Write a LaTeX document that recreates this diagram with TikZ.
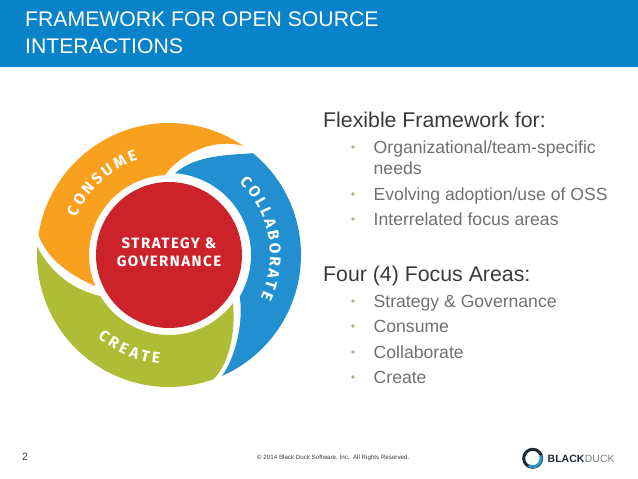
\documentclass[tikz,border=0pt]{standalone}
\usepackage{fontspec}
\setmainfont{Liberation Sans}
\newfontfamily\wheelfont{Fira Sans}
\newfontfamily\stratfont[LetterSpace=10]{Fira Sans}
\usetikzlibrary{calc, decorations.text}
\definecolor{headblue}{HTML}{0882C8}
\definecolor{consumeorange}{HTML}{F9A01F}
\definecolor{collabblue}{HTML}{2290D0}
\definecolor{createolive}{HTML}{AEBD35}
\definecolor{stratred}{HTML}{CC2229}
\definecolor{bodygray}{HTML}{3A3A3A}
\definecolor{itemgray}{HTML}{707070}
\definecolor{bulletgreen}{HTML}{A3B585}
\definecolor{duckdark}{HTML}{1E2A33}
\definecolor{duckblue}{HTML}{2A93C8}
\begin{document}
\begin{tikzpicture}[
  x=1pt, y=1pt,
  headtext/.style={anchor=base west, text=white, font=\fontsize{21.2}{24}\selectfont, inner sep=0pt},
  bighead/.style={anchor=base west, text=bodygray, font=\fontsize{21.3}{24}\selectfont, inner sep=0pt},
  itemtext/.style={anchor=base west, text=itemgray, font=\fontsize{17.6}{20}\selectfont, inner sep=0pt},
  dotmark/.style={anchor=center, circle, fill=bulletgreen, minimum size=3.6pt, inner sep=0pt},
  arctext/.style={decorate, decoration={text along path, text align=fit to path,
    text={|\wheelfont\bfseries\fontsize{15.5}{15.5}\selectfont\color{white}|#1}}}
]
  \useasboundingbox (0,0) rectangle (638,-479);
  \fill[white] (0,0) rectangle (638,-479);

  % header
  \fill[headblue] (0,0) rectangle (638,-67);
  \node[headtext] (title1) at (25,-27) {FRAMEWORK FOR OPEN SOURCE};
  \node[headtext] (title2) at (25,-53.5) {INTERACTIONS};

  % wheel
  \coordinate (c) at (169,-255);
  \fill[consumeorange] (c) ++(171.4:132) arc[start angle=171.4, end angle=55.7, radius=132]
    .. controls (215,-138) and (182,-152) .. ($(c)+(93:80)$)
    arc[start angle=93, end angle=203, radius=80]
    .. controls (70,-275) and (48,-260) .. cycle;
  \fill[collabblue] (c) ++(50.5:132) arc[start angle=50.5, end angle=-66.3, radius=132]
    .. controls (234,-360) and (244,-325) .. ($(c)+(-30.4:82)$)
    arc[start angle=-30.4, end angle=85.8, radius=82]
    .. controls (196,-155) and (228,-155) .. cycle;
  \fill[createolive] (c) ++(176.5:132) arc[start angle=176.5, end angle=289.7, radius=132]
    .. controls (228,-365) and (236,-335) .. ($(c)+(-36.9:80)$)
    arc[start angle=-36.9, end angle=-149, radius=80]
    .. controls (75,-290) and (52,-275) .. cycle;
  \node[circle, fill=stratred, minimum size=146pt, inner sep=0pt] (strat) at (c) {};
  \node[align=center, text=white, inner sep=0pt, yshift=3pt,
    font=\stratfont\bfseries\fontsize{15}{18}\selectfont] (stratlabel) at (strat) {STRATEGY \&\\GOVERNANCE};

  \path[arctext={CONSUME}] (c) ++(158:100) arc[start angle=158, end angle=108, radius=100];
  \path[arctext={COLLABORATE}] (c) ++(46:101) arc[start angle=46, end angle=-25, radius=101];
  \path[arctext={CREATE}] (c) ++(229:109) arc[start angle=229, end angle=265, radius=109];

  % right column
  \node[bighead] (flex) at (323,-127) {Flexible Framework for:};
  \node[bighead] (four) at (323,-281) {Four (4) Focus Areas:};
  \foreach \yy/\itemname in {153/{Organizational/team-specific}, 200/{Evolving adoption/use of OSS},
      225/{Interrelated focus areas}, 307/{Strategy \& Governance}, 332/{Consume},
      358/{Collaborate}, 383/{Create}}{
    \node[dotmark] (dot\yy) at (353,-\yy+6) {};
    \node[itemtext] (item\yy) at (373.5,-\yy) {\itemname};
  }
  \node[itemtext] (item174) at (373.5,-174) {needs};

  % footer
  \node[anchor=base west, inner sep=0pt, text=bodygray, font=\fontsize{10.5}{12}\selectfont] (pagenum) at (22,-460.5) {2};
  \node[anchor=base west, inner sep=0pt, text=bodygray, font=\fontsize{6.2}{7}\selectfont] (copyr) at (257,-459.5)
    {© 2014 Black Duck Software, Inc.\ \ All Rights Reserved.};

  % logo
  \coordinate (ring) at (532.7,-458.3);
  \draw[duckdark, line width=3pt] (ring) circle[radius=9];
  \draw[duckblue, line width=3pt] (ring) ++(20:8.5) arc[start angle=20, end angle=-120, radius=8.5];
  \node[anchor=base west, inner sep=0pt, text=duckdark, font=\bfseries\fontsize{10.5}{12}\selectfont] (black) at (547.5,-462.7) {BLACK};
  \node[anchor=base west, inner sep=0pt, text=gray, font=\fontsize{10.5}{12}\selectfont] (duck) at (black.base east) {DUCK};
\end{tikzpicture}
\end{document}
